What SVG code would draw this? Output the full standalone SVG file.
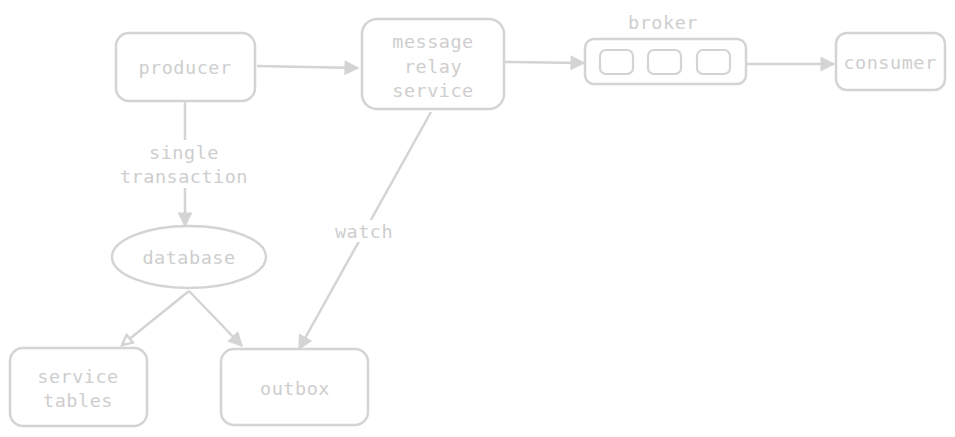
<svg xmlns="http://www.w3.org/2000/svg" width="955" height="437" viewBox="0 0 955 437">
<defs>
<style>
.box{fill:none;stroke:#d4d4d4;stroke-width:2.5}
.inner{fill:none;stroke:#d4d4d4;stroke-width:2.2}
.t{font-family:"DejaVu Sans Mono","Liberation Mono",monospace;font-size:18.5px;letter-spacing:0.5px;fill:#cecece;text-anchor:middle;dominant-baseline:central}
.e{fill:none;stroke:#d4d4d4;stroke-width:2.5}
.lbl{fill:#ffffff}
</style>
<marker id="ah" viewBox="0 0 10 10" refX="9" refY="5" markerWidth="7" markerHeight="6" markerUnits="strokeWidth" orient="auto">
<path d="M0,0 L10,5 L0,10 z" fill="#d4d4d4"/>
</marker>
<marker id="ah2" viewBox="0 0 10 10" refX="9" refY="5" markerWidth="6" markerHeight="5" markerUnits="strokeWidth" orient="auto">
<path d="M1,1 L9,5 L1,9 z" fill="#ffffff" stroke="#d4d4d4" stroke-width="2"/>
</marker>
</defs>
<rect width="955" height="437" fill="#ffffff"/>
<g id="connectors">
<path class="e" d="M257,66 L358,68" marker-end="url(#ah)"/>
<path class="e" d="M503,62 L584,63" marker-end="url(#ah)"/>
<path class="e" d="M747,64 L834,64" marker-end="url(#ah)"/>
<path class="e" d="M185,102 L185,226" marker-end="url(#ah)"/>
<path class="e" d="M189,291 L122,345" marker-end="url(#ah2)"/>
<path class="e" d="M189,291 L242,346" marker-end="url(#ah)"/>
<path class="e" d="M431,112 L299,349" marker-end="url(#ah)"/>
<rect class="lbl" x="116" y="140" width="136" height="48"/>
<text class="t" x="184" y="152">single</text>
<text class="t" x="184" y="176">transaction</text>
<rect class="lbl" x="333" y="220" width="62" height="22"/>
<text class="t" x="364" y="231">watch</text>
</g>
<g id="producer">
<rect class="box" x="116" y="33" width="139" height="68" rx="13"/>
<text class="t" x="185" y="67">producer</text>
</g>
<g id="message-relay-service">
<rect class="box" x="362" y="19" width="142" height="90" rx="15"/>
<text class="t" x="433" y="41">message</text>
<text class="t" x="433" y="66">relay</text>
<text class="t" x="433" y="90">service</text>
</g>
<g id="broker">
<text class="t" x="663" y="22">broker</text>
<rect class="box" x="585" y="39" width="161" height="45" rx="9"/>
<rect class="inner" x="600" y="50" width="33" height="24" rx="6"/>
<rect class="inner" x="648" y="50" width="33" height="24" rx="6"/>
<rect class="inner" x="697" y="50" width="33" height="24" rx="6"/>
</g>
<g id="consumer">
<rect class="box" x="836" y="33" width="109" height="57" rx="11"/>
<text class="t" x="890" y="62">consumer</text>
</g>
<g id="database">
<ellipse class="box" cx="189" cy="257" rx="77" ry="31"/>
<text class="t" x="189" y="257">database</text>
</g>
<g id="service-tables">
<rect class="box" x="10" y="348" width="137" height="78" rx="13"/>
<text class="t" x="78" y="376">service</text>
<text class="t" x="78" y="400">tables</text>
</g>
<g id="outbox">
<rect class="box" x="221" y="349" width="147" height="76" rx="13"/>
<text class="t" x="295" y="388">outbox</text>
</g>
</svg>
